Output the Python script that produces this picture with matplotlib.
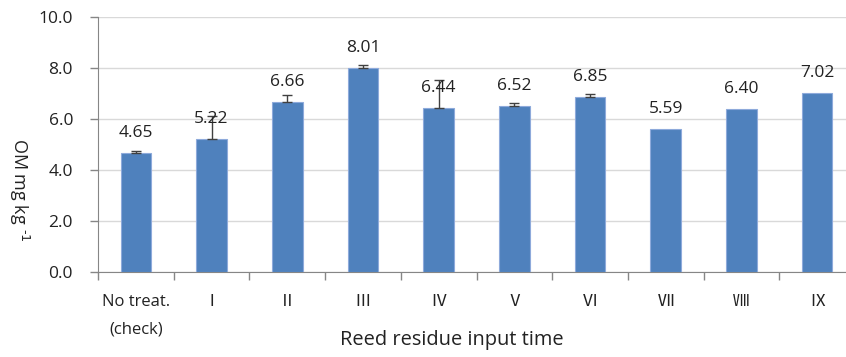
import matplotlib.pyplot as plt
import numpy as np

plt.rcParams['font.family'] = ['Open Sans', 'Noto Sans CJK KR', 'DejaVu Sans']

# --------------------------
# DATA
# --------------------------
categories = ["No treat.\n(check)", "Ⅰ", "Ⅱ", "Ⅲ", "Ⅳ", "Ⅴ", "Ⅵ", "Ⅶ", "Ⅷ", "Ⅸ"]
om_values = [4.65, 5.22, 6.66, 8.01, 6.44, 6.52, 6.85, 5.59, 6.40, 7.02]
om_errors = [0.08, 0.88, 0.26, 0.12, 1.09, 0.10, 0.12, 0.0, 0.0, 0.0]
y_ticks = [0, 2, 4, 6, 8, 10]

# --------------------------
# FIGURE
# --------------------------
fig = plt.figure(figsize=(8.46, 3.57), dpi=100)
ax = fig.add_axes([98 / 846, (357 - 271.7) / 357, 757 / 846, 254.7 / 357])

x = np.arange(len(categories))
ax.bar(x, om_values, width=0.405, color="#4F81BD", edgecolor="#8EAADB",
       linewidth=0.8, zorder=3)

# upper error bars only
err_x = [xi for xi, e in zip(x, om_errors) if e > 0]
err_y = [v for v, e in zip(om_values, om_errors) if e > 0]
err_up = [e for e in om_errors if e > 0]
ax.errorbar(err_x, err_y, yerr=[np.zeros(len(err_up)), err_up], fmt="none",
            ecolor="#404040", elinewidth=1, capsize=3.5, capthick=1, zorder=4)

for xi, v in zip(x, om_values):
    ax.annotate(f"{v:.2f}", (xi, v), xytext=(0, 11.5), textcoords="offset points",
                ha="center", va="baseline", fontsize=12.5, color="#222222", zorder=5)

# axes styling
ax.set_xlim(-0.5, len(categories) - 0.5)
ax.set_ylim(0, 10)
ax.set_yticks(y_ticks)
ax.set_yticklabels([f"{t:.1f}" for t in y_ticks], fontsize=12.5, color="#222222")
ax.yaxis.grid(True, color="#D9D9D9", linewidth=1, zorder=0)
ax.set_axisbelow(True)

ax.set_xticks(x)
ax.set_xticklabels(categories, fontsize=12, linespacing=2.0, va="top", color="#222222")
ax.set_xticks(np.arange(-0.5, len(categories), 1), minor=True)
ax.tick_params(axis="x", which="major", length=0, pad=16)
ax.tick_params(axis="x", which="minor", length=6, color="#868686", width=1)
ax.tick_params(axis="y", length=6, color="#868686", width=1, pad=12)

for side in ["top", "right"]:
    ax.spines[side].set_visible(False)
ax.spines["left"].set_color("#868686")
ax.spines["bottom"].set_color("#868686")

fig.text(19 / 846, (357 - 190) / 357, r"OM mg kg $^{\text{-}1}$", rotation=270,
         ha="center", va="center", fontsize=13, color="#222222")
fig.text(452 / 846, (357 - 340) / 357, "Reed residue input time",
         ha="center", va="center", fontsize=14.4, color="#222222")

fig.savefig("out.png", dpi=100)
